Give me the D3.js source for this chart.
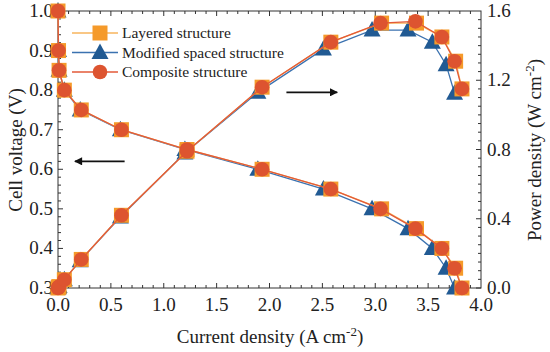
<!DOCTYPE html>
<html>
<head>
<meta charset="utf-8">
<script src="https://d3js.org/d3.v7.min.js"></script>
<style>
  body { margin: 0; background: #fff; }
</style>
</head>
<body>
<svg width="550" height="352" font-family="'Liberation Serif', 'Times New Roman', Times, serif"></svg>
<script>
// values
var seriesNames = ["Layered structure", "Modified spaced structure", "Composite structure"];

var currentLayered   = [0, 0.005, 0.01, 0.06, 0.22, 0.60, 1.22, 1.93, 2.58, 3.06, 3.39, 3.63, 3.76, 3.82];
var voltageLayered   = [1.00, 0.90, 0.85, 0.80, 0.75, 0.70, 0.65, 0.60, 0.55, 0.50, 0.45, 0.40, 0.35, 0.30];
var powerLayered     = [0, 0.005, 0.008, 0.048, 0.165, 0.42, 0.79, 1.16, 1.42, 1.53, 1.53, 1.45, 1.31, 1.15];

var currentModified  = [0, 0.005, 0.01, 0.06, 0.21, 0.59, 1.20, 1.89, 2.51, 2.97, 3.31, 3.54, 3.67, 3.75];
var voltageModified  = [1.00, 0.90, 0.85, 0.80, 0.75, 0.70, 0.65, 0.60, 0.55, 0.50, 0.45, 0.40, 0.35, 0.30];
var powerModified    = [0, 0.005, 0.008, 0.048, 0.158, 0.41, 0.78, 1.13, 1.38, 1.49, 1.49, 1.42, 1.29, 1.125];

var currentComposite = [0, 0.005, 0.01, 0.06, 0.22, 0.60, 1.22, 1.93, 2.58, 3.05, 3.38, 3.63, 3.75, 3.82];
var voltageComposite = [1.00, 0.90, 0.85, 0.80, 0.75, 0.70, 0.65, 0.60, 0.55, 0.50, 0.45, 0.40, 0.35, 0.30];
var powerComposite   = [0, 0.005, 0.008, 0.048, 0.165, 0.42, 0.79, 1.16, 1.42, 1.53, 1.54, 1.45, 1.31, 1.15];

var xTicks = [0, 0.5, 1.0, 1.5, 2.0, 2.5, 3.0, 3.5, 4.0];
var yLeftTicks = [0.3, 0.4, 0.5, 0.6, 0.7, 0.8, 0.9, 1.0];
var yRightTicks = [0.0, 0.4, 0.8, 1.2, 1.6];

var svg = d3.select("svg");
var L = 58, R = 481, T = 11, B = 288;

var x = d3.scaleLinear().domain([0, 4]).range([L, R]);
var yV = d3.scaleLinear().domain([0.3, 1.0]).range([B, T]);
var yP = d3.scaleLinear().domain([0, 1.6]).range([B, T]);

var styles = [
  { line: "#f7b55c", fill: "#f59a2a", shape: "square" },
  { line: "#3b72b0", fill: "#215a93", shape: "triangle" },
  { line: "#e35a38", fill: "#dd5430", shape: "circle" }
];

var series = [
  { name: seriesNames[0], c: currentLayered, v: voltageLayered, p: powerLayered, s: styles[0] },
  { name: seriesNames[1], c: currentModified, v: voltageModified, p: powerModified, s: styles[1] },
  { name: seriesNames[2], c: currentComposite, v: voltageComposite, p: powerComposite, s: styles[2] }
];

function marker(sel, s) {
  if (s.shape == "square") {
    sel.append("rect").attr("x", -7.5).attr("y", -7.5).attr("width", 15).attr("height", 15)
      .attr("fill", s.fill);
  } else if (s.shape == "triangle") {
    sel.append("path").attr("d", "M0,-9L8.5,6.5L-8.5,6.5Z").attr("fill", s.fill);
  } else {
    sel.append("circle").attr("r", 7.3).attr("fill", s.fill);
  }
}

// axes ticks (inward) and frame
var axes = svg.append("g").attr("stroke", "#333").attr("stroke-width", 1);
d3.range(0, 40).forEach(function(i) {
  var v = i / 10, major = i % 5 == 0, len = major ? 5 : 3;
  axes.append("line").attr("x1", x(v)).attr("x2", x(v)).attr("y1", B).attr("y2", B - len);
  axes.append("line").attr("x1", x(v)).attr("x2", x(v)).attr("y1", T).attr("y2", T + len);
});
d3.range(0, 35).forEach(function(i) {
  var v = 0.3 + i * 0.02, major = i % 5 == 0;
  axes.append("line").attr("x1", L).attr("x2", L + (major ? 5 : 3)).attr("y1", yV(v)).attr("y2", yV(v));
});
d3.range(0, 32).forEach(function(i) {
  var v = i * 0.05, major = i % 8 == 0;
  axes.append("line").attr("x1", R).attr("x2", R - (major ? 5 : 3)).attr("y1", yP(v)).attr("y2", yP(v));
});
axes.append("rect").attr("x", L).attr("y", T).attr("width", R - L).attr("height", B - T)
  .attr("fill", "none").attr("stroke", "#333");

// tick labels
svg.selectAll(".xt").data(xTicks).enter().append("text")
  .attr("x", function(d) { return x(d); }).attr("y", 311)
  .attr("text-anchor", "middle").attr("font-size", 19).attr("fill", "#222")
  .text(function(d) { return d.toFixed(1); });
svg.selectAll(".yl").data(yLeftTicks).enter().append("text")
  .attr("x", 53).attr("y", function(d) { return yV(d) + 6; })
  .attr("text-anchor", "end").attr("font-size", 19).attr("fill", "#222")
  .text(function(d) { return d.toFixed(1); });
svg.selectAll(".yr").data(yRightTicks).enter().append("text")
  .attr("x", 487).attr("y", function(d) { return yP(d) + 6; })
  .attr("text-anchor", "start").attr("font-size", 19).attr("fill", "#222")
  .text(function(d) { return d.toFixed(1); });

// axis titles
var xt = svg.append("text").attr("x", 270).attr("y", 343).attr("text-anchor", "middle")
  .attr("font-size", 19).attr("fill", "#222");
xt.append("tspan").text("Current density (A cm");
xt.append("tspan").attr("dy", -7).attr("font-size", 13).text("-2");
xt.append("tspan").attr("dy", 7).text(")");

svg.append("text").attr("transform", "translate(22,150) rotate(-90)")
  .attr("text-anchor", "middle").attr("font-size", 19).attr("fill", "#222").text("Cell voltage (V)");

var yt = svg.append("text").attr("transform", "translate(541,150) rotate(-90)")
  .attr("text-anchor", "middle").attr("font-size", 19).attr("fill", "#222");
yt.append("tspan").text("Power density (W cm");
yt.append("tspan").attr("dy", -7).attr("font-size", 13).text("-2");
yt.append("tspan").attr("dy", 7).text(")");

// series: modified first, then layered, then composite on top
var order = [1, 0, 2];
order.forEach(function(k) {
  var sr = series[k];
  var vPts = sr.c.map(function(c, i) { return [x(c), yV(sr.v[i])]; });
  var pPts = sr.c.map(function(c, i) { return [x(c), yP(sr.p[i])]; });
  [vPts, pPts].forEach(function(pts) {
    svg.append("path").attr("d", d3.line()(pts)).attr("fill", "none")
      .attr("stroke", sr.s.line).attr("stroke-width", 1.3);
  });
  [vPts, pPts].forEach(function(pts) {
    pts.forEach(function(pt) {
      var g = svg.append("g").attr("transform", "translate(" + pt[0] + "," + pt[1] + ")");
      marker(g, sr.s);
    });
  });
});

// legend
series.forEach(function(sr, i) {
  var yy = 33 + i * 19.5;
  svg.append("line").attr("x1", 72).attr("x2", 118).attr("y1", yy).attr("y2", yy)
    .attr("stroke", sr.s.line).attr("stroke-width", 1.3);
  var g = svg.append("g").attr("transform", "translate(100," + yy + ")");
  marker(g, sr.s);
  svg.append("text").attr("x", 122).attr("y", yy + 5).attr("font-size", 15.5).attr("fill", "#222").text(sr.name);
});

// arrows
svg.append("defs").append("marker").attr("id", "ah").attr("viewBox", "0 0 10 10")
  .attr("refX", 9).attr("refY", 5).attr("markerWidth", 13).attr("markerHeight", 8)
  .attr("markerUnits", "userSpaceOnUse").attr("orient", "auto")
  .append("path").attr("d", "M0,0L10,5L0,10Z").attr("fill", "#111");
svg.append("line").attr("x1", x(0.63)).attr("x2", x(0.16)).attr("y1", yV(0.62)).attr("y2", yV(0.62))
  .attr("stroke", "#111").attr("stroke-width", 1.8).attr("marker-end", "url(#ah)");
svg.append("line").attr("x1", x(2.16)).attr("x2", x(2.64)).attr("y1", yP(1.13)).attr("y2", yP(1.13))
  .attr("stroke", "#111").attr("stroke-width", 1.8).attr("marker-end", "url(#ah)");
</script>
</body>
</html>
